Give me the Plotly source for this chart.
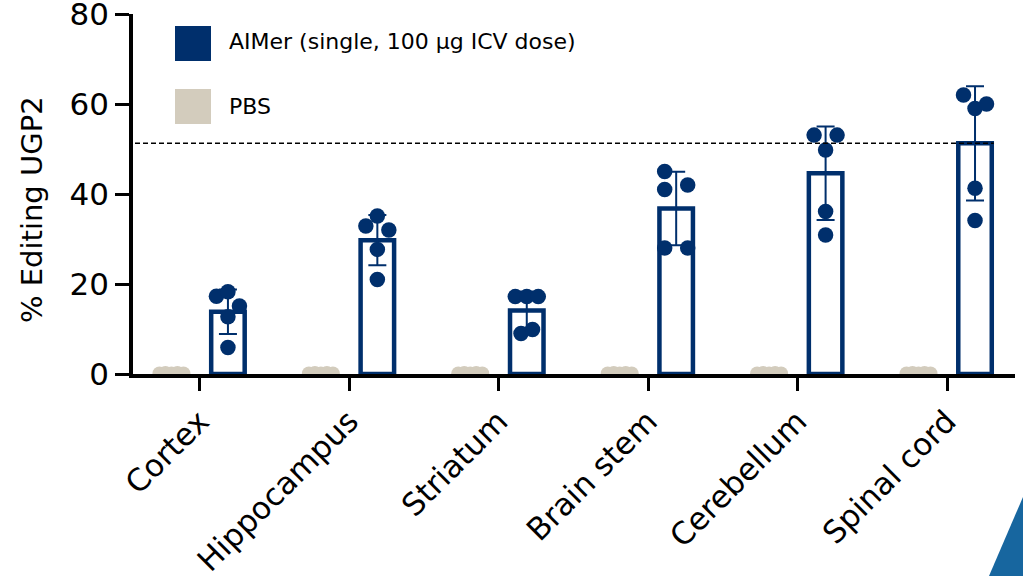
import numpy as np
import plotly.graph_objects as go

# ---- data -------------------------------------------------------------
regions = ["Cortex", "Hippocampus", "Striatum", "Brain stem", "Cerebellum", "Spinal cord"]

# % editing of UGP2 per animal, AIMer (single 100 µg ICV dose)
aimer_cortex = [17.3, 18.3, 15.1, 12.7, 5.9]
aimer_hippocampus = [32.9, 35.1, 32.0, 27.7, 21.0]
aimer_striatum = [17.2, 17.2, 17.2, 9.0, 9.9]
aimer_brain_stem = [45.0, 41.0, 42.0, 28.0, 28.0]
aimer_cerebellum = [53.1, 53.1, 49.8, 36.1, 30.9]
aimer_spinal_cord = [62.0, 59.0, 60.0, 41.3, 34.1]

# % editing of UGP2 per animal, PBS control
pbs_cortex = [0.1, 0.2, 0.1, 0.2, 0.1]
pbs_hippocampus = [0.1, 0.2, 0.1, 0.2, 0.1]
pbs_striatum = [0.1, 0.2, 0.1, 0.2, 0.1]
pbs_brain_stem = [0.1, 0.2, 0.1, 0.2, 0.1]
pbs_cerebellum = [0.1, 0.2, 0.1, 0.2, 0.1]
pbs_spinal_cord = [0.1, 0.2, 0.1, 0.2, 0.1]

y_ticks = [0, 20, 40, 60, 80]

aimer_groups = [aimer_cortex, aimer_hippocampus, aimer_striatum,
                aimer_brain_stem, aimer_cerebellum, aimer_spinal_cord]
pbs_groups = [pbs_cortex, pbs_hippocampus, pbs_striatum,
              pbs_brain_stem, pbs_cerebellum, pbs_spinal_cord]

# ---- styling / layout constants ---------------------------------------
NAVY = "#002F6C"
BEIGE = "#D3CCBD"
FONT = "'DejaVu Sans', Verdana, sans-serif"

W, H = 1023, 576
M_L, M_R, M_T, M_B = 133, 8, 14, 202
PLOT_W = W - M_L - M_R
PLOT_H = H - M_T - M_B
X_RANGE = [-0.448, 5.455]
Y_RANGE = [0, 80.02]
PX = PLOT_W / (X_RANGE[1] - X_RANGE[0])  # pixels per category unit

AIM_CENTER = 28 / PX
AIM_WIDTH = 33.5 / PX
PBS_CENTER = -28.5 / PX
PBS_WIDTH = 37 / PX

# column of each replicate dot inside its bar (swarm arrangement)
aimer_dot_columns = [
    [-1, 0, 1, 0, 0],
    [-1, 0, 1, 0, 0],
    [-1, 0, 1, -0.5, 0.5],
    [-1, -1, 1, -1, 1],
    [-1, 1, 0, 0, 0],
    [-1, 0, 1, 0, 0],
]
pbs_dot_columns = [-2, -1, 0, 1, 2]
AIM_COL_PX = 11.5
PBS_COL_PX = 6.0


def px_to_paper_x(px):
    return (px - M_L) / PLOT_W


def px_to_paper_y(py):
    return (H - M_B - py) / PLOT_H


# ---- summary statistics -------------------------------------------------
idx = np.arange(len(regions))
aim_mean = np.array([np.mean(g) for g in aimer_groups])
aim_sd = np.array([np.std(g, ddof=1) for g in aimer_groups])
pbs_mean = np.array([np.mean(g) for g in pbs_groups])

fig = go.Figure()

# PBS bars
fig.add_trace(go.Bar(
    x=idx, y=pbs_mean, width=PBS_WIDTH, offset=PBS_CENTER - PBS_WIDTH / 2,
    marker=dict(color=BEIGE, line=dict(width=0)), showlegend=False,
))

# AIMer bars (open bars, mean ± SD)
fig.add_trace(go.Bar(
    x=idx, y=aim_mean, width=AIM_WIDTH, offset=AIM_CENTER - AIM_WIDTH / 2,
    marker=dict(color="white", line=dict(color=NAVY, width=4.5)),
    error_y=dict(type="data", array=aim_sd, color=NAVY, thickness=2, width=9),
    showlegend=False,
))

# PBS replicate dots
px_, py_ = [], []
for i, g in enumerate(pbs_groups):
    for v, c in zip(g, pbs_dot_columns):
        px_.append(i + PBS_CENTER + c * PBS_COL_PX / PX)
        py_.append(v)
fig.add_trace(go.Scatter(
    x=px_, y=py_, mode="markers", cliponaxis=True,
    marker=dict(color=BEIGE, size=14, line=dict(width=0)), showlegend=False,
))

# AIMer replicate dots
ax_, ay_ = [], []
for i, (g, cols) in enumerate(zip(aimer_groups, aimer_dot_columns)):
    for v, c in zip(g, cols):
        ax_.append(i + AIM_CENTER + c * AIM_COL_PX / PX)
        ay_.append(v)
fig.add_trace(go.Scatter(
    x=ax_, y=ay_, mode="markers", cliponaxis=True,
    marker=dict(color=NAVY, size=15.5, line=dict(width=0)), showlegend=False,
))

shapes = [
    # reference line at the spinal cord mean
    dict(type="line", xref="x", yref="y",
         x0=X_RANGE[0] - 14 / PX,
         x1=5 + AIM_CENTER + AIM_WIDTH / 2 + 2 / PX,
         y0=aim_mean[-1], y1=aim_mean[-1],
         line=dict(color="black", width=1.5, dash="5px,3px")),
    # legend swatches
    dict(type="rect", xref="paper", yref="paper",
         x0=px_to_paper_x(175), x1=px_to_paper_x(211),
         y0=px_to_paper_y(61), y1=px_to_paper_y(26),
         fillcolor=NAVY, line=dict(width=0)),
    dict(type="rect", xref="paper", yref="paper",
         x0=px_to_paper_x(175), x1=px_to_paper_x(211),
         y0=px_to_paper_y(124), y1=px_to_paper_y(89),
         fillcolor=BEIGE, line=dict(width=0)),
    # corner accent
    dict(type="path", xref="paper", yref="paper",
         path="M {} {} L {} {} L {} {} Z".format(
             px_to_paper_x(989), px_to_paper_y(576),
             px_to_paper_x(1023), px_to_paper_y(497),
             px_to_paper_x(1023), px_to_paper_y(576)),
         fillcolor="#17669F", line=dict(width=0), layer="above"),
]

annotations = [
    dict(text="AIMer (single, 100 µg ICV dose)", xref="paper", yref="paper",
         x=px_to_paper_x(227), y=px_to_paper_y(42), xanchor="left", yanchor="middle",
         showarrow=False, font=dict(family=FONT, size=22, color="black")),
    dict(text="PBS", xref="paper", yref="paper",
         x=px_to_paper_x(227), y=px_to_paper_y(107), xanchor="left", yanchor="middle",
         showarrow=False, font=dict(family=FONT, size=22, color="black")),
    dict(text="% Editing UGP2", xref="paper", yref="paper",
         x=px_to_paper_x(32), y=px_to_paper_y(210), xanchor="center", yanchor="middle",
         textangle=-90, showarrow=False, font=dict(family=FONT, size=29, color="black")),
]

fig.update_layout(
    width=W, height=H,
    margin=dict(l=M_L, r=M_R, t=M_T, b=M_B, pad=0, autoexpand=False),
    paper_bgcolor="white", plot_bgcolor="white",
    barmode="overlay",
    showlegend=False,
    shapes=shapes,
    annotations=annotations,
    font=dict(family=FONT, color="black"),
)

fig.update_xaxes(
    range=X_RANGE, tickmode="array", tickvals=idx, ticktext=regions,
    tickangle=-45, tickfont=dict(family=FONT, size=31, color="black"),
    showline=True, linecolor="black", linewidth=3.5,
    ticks="outside", ticklen=13, tickwidth=3, tickcolor="black",
    showgrid=False, zeroline=False, ticklabeloverflow="allow", automargin=False,
)
fig.update_yaxes(
    range=Y_RANGE, tickmode="array", tickvals=y_ticks,
    tickfont=dict(family=FONT, size=31, color="black"),
    showline=True, linecolor="black", linewidth=3.5,
    ticks="outside", ticklen=14, tickwidth=3, tickcolor="black",
    showgrid=False, zeroline=False, ticklabeloverflow="allow", automargin=False,
)

fig.write_html("out.html")
